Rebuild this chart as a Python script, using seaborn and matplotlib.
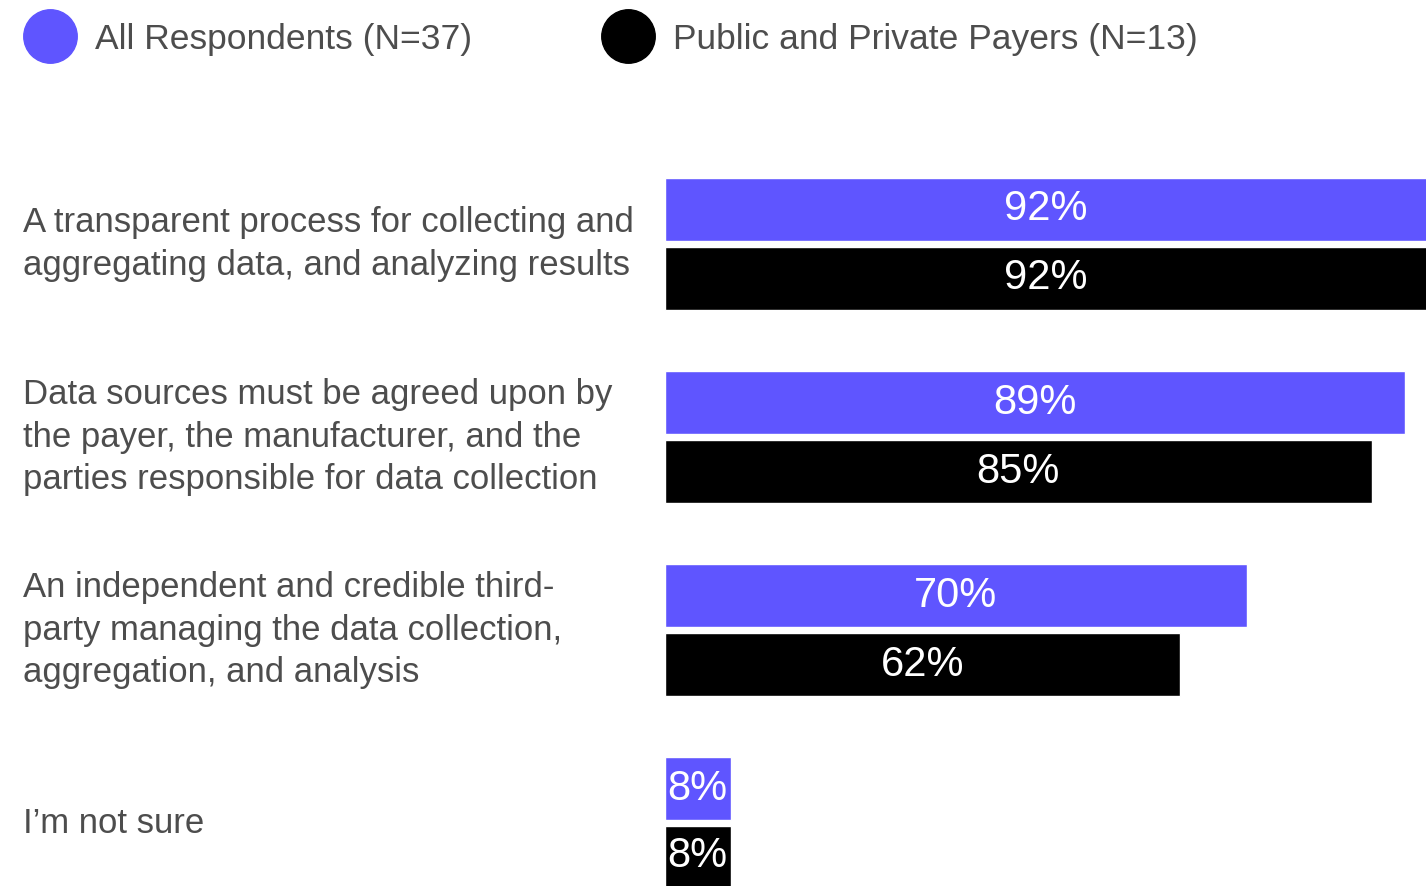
import matplotlib
matplotlib.use("Agg")
import matplotlib.pyplot as plt
from matplotlib.lines import Line2D
from matplotlib.transforms import blended_transform_factory
import seaborn as sns
import pandas as pd

# Survey answers and the share of each group that selected them
categories = [
    "A transparent process for collecting and\naggregating data, and analyzing results",
    "Data sources must be agreed upon by\nthe payer, the manufacturer, and the\nparties responsible for data collection",
    "An independent and credible third-\nparty managing the data collection,\naggregation, and analysis",
    "I\u2019m not sure",
]
groups = ["All Respondents (N=37)", "Public and Private Payers (N=13)"]
all_respondents = [92, 89, 70, 8]
payers = [92, 85, 62, 8]

colors = ["#5f55ff", "#000000"]
text_color = "#4d4d4d"

sns.set_theme(style="white")
plt.rcParams["font.family"] = ["Liberation Sans", "DejaVu Sans"]

df = pd.DataFrame({
    "category": categories * 2,
    "group": [groups[0]] * len(categories) + [groups[1]] * len(categories),
    "value": all_respondents + payers,
})

W, H, DPI = 1426, 886, 100
fig = plt.figure(figsize=(W / DPI, H / DPI), dpi=DPI)
ax = fig.add_axes([664.5 / W, 0, 1 - 664.5 / W, 1])

sns.barplot(
    data=df, y="category", x="value", hue="group", hue_order=groups,
    order=categories, orient="h", palette=colors, width=0.715, gap=0.087,
    saturation=1, ax=ax, legend=False, errorbar=None,
)

ax.set_xlim(0, 91.5)
ax.set_ylim(3.326, -1.264)
ax.set_xlabel("")
ax.set_ylabel("")
ax.set_xticks([])
ax.set_yticks([])
for s in ax.spines.values():
    s.set_visible(False)
ax.patch.set_alpha(0)

# value labels centred in each bar
for cont, vals in zip(ax.containers, [all_respondents, payers]):
    ax.bar_label(cont, labels=[f"{v}%" for v in vals], label_type="center",
                 color="white", fontsize=30, clip_on=False)

# category labels on the left, centred on each group
trans = blended_transform_factory(fig.transFigure, ax.transData)
for i, cat in enumerate(categories):
    ax.text(23 / W, i, cat, transform=trans, ha="left", va="center",
            fontsize=25, color=text_color, linespacing=1.37)

handles = [Line2D([], [], linestyle="none", marker="o", markersize=38.5,
                  markerfacecolor=c, markeredgecolor=c) for c in colors]
fig.legend(handles, groups, loc="center left", bbox_to_anchor=(23 / W, 1 - 39 / H),
           ncol=2, frameon=False, fontsize=25.5, labelcolor=text_color,
           handlelength=1.53, handletextpad=0.5, columnspacing=3.64,
           borderpad=0, borderaxespad=0)

fig.savefig("out.png", dpi=DPI)
